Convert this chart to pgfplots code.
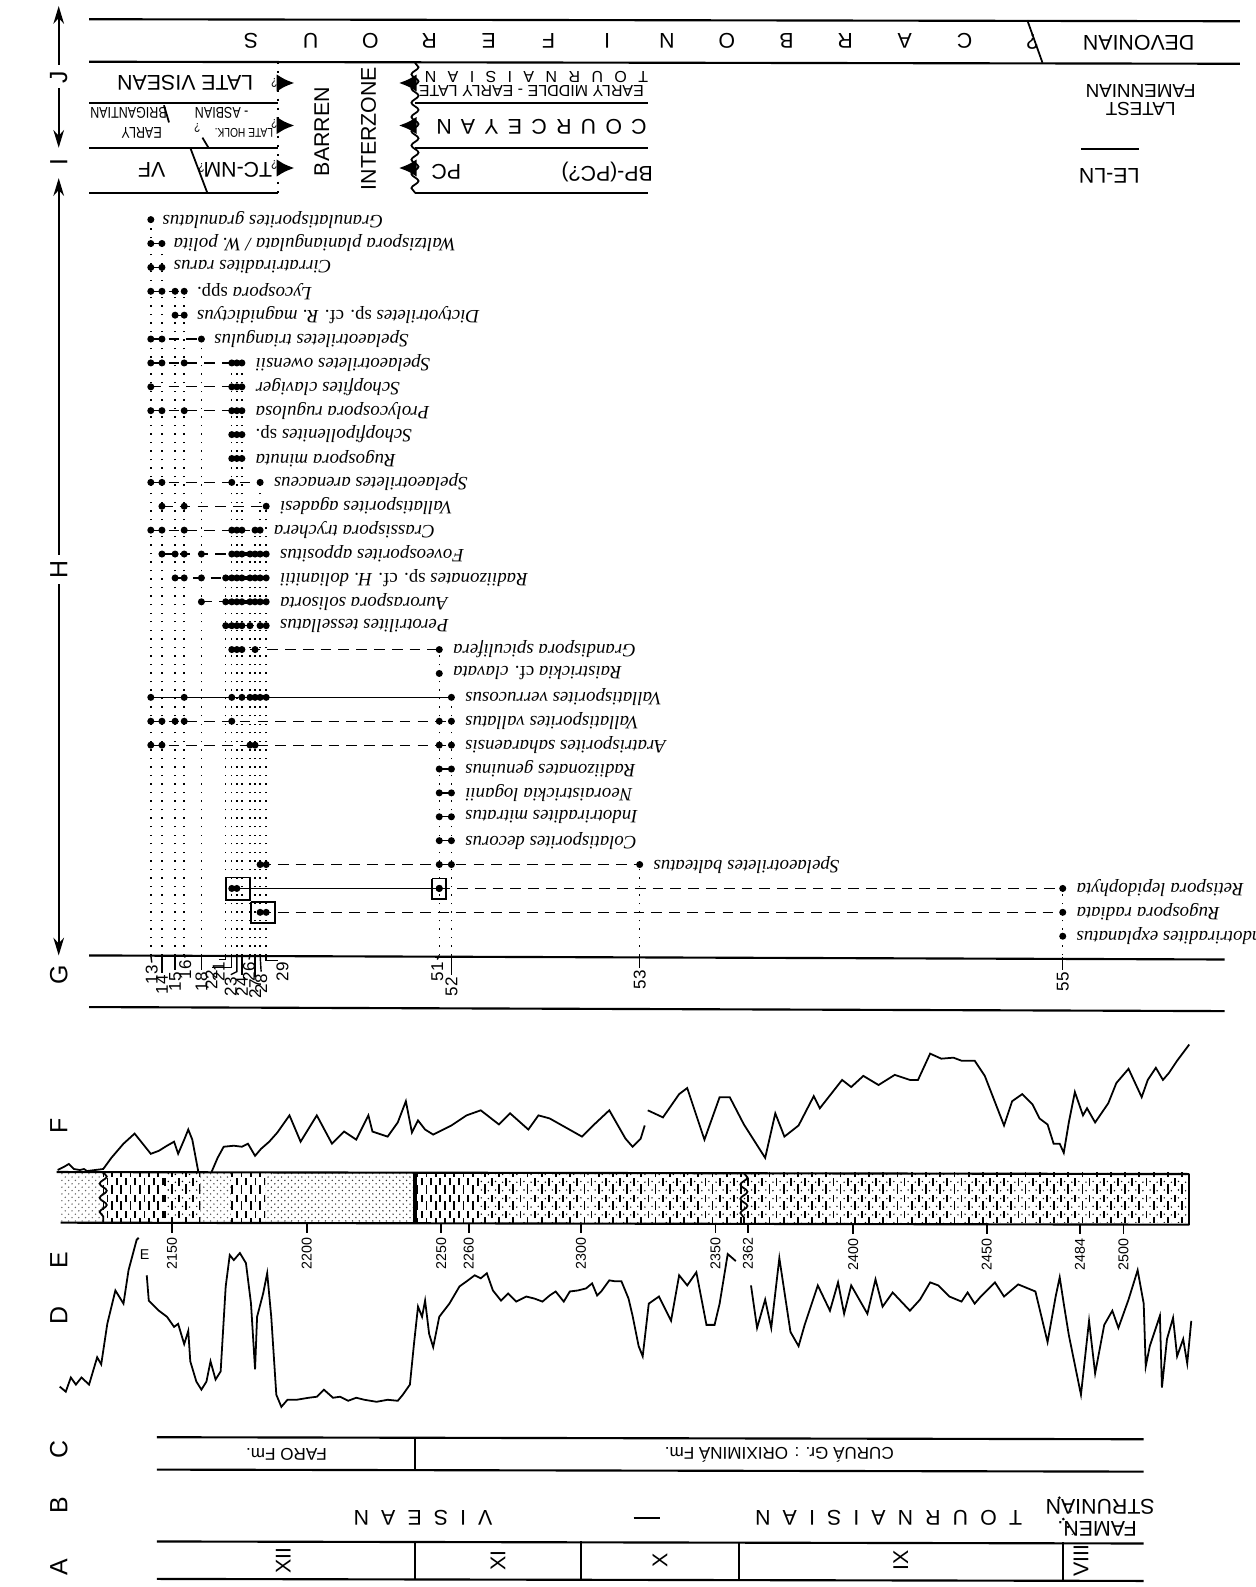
\documentclass[border=0pt]{standalone}
\usepackage{fontspec}
\setmainfont{Liberation Serif}
\newfontfamily\sans{Liberation Sans}
\newfontfamily\sansn[FakeStretch=0.8]{Liberation Sans}
\usepackage{pgfplots}
\pgfplotsset{compat=1.18}
\usetikzlibrary{arrows.meta,decorations.pathmorphing,patterns}

\pgfdeclarepatternformonly{sanddots}{\pgfqpoint{-0.3pt}{-0.3pt}}{\pgfqpoint{2.2pt}{2.2pt}}{\pgfqpoint{1.9pt}{1.9pt}}{%
  \pgfpathcircle{\pgfqpoint{0.3pt}{0.3pt}}{0.22pt}%
  \pgfpathcircle{\pgfqpoint{1.25pt}{1.25pt}}{0.22pt}%
  \pgfusepath{fill}}
\pgfdeclarepatternformonly{shale}{\pgfqpoint{-0.5pt}{-0.5pt}}{\pgfqpoint{3pt}{5pt}}{\pgfqpoint{2.6pt}{4.6pt}}{%
  \pgfsetlinewidth{0.5pt}%
  \pgfpathmoveto{\pgfqpoint{0.3pt}{0.2pt}}\pgfpathlineto{\pgfqpoint{0.3pt}{2.6pt}}%
  \pgfpathmoveto{\pgfqpoint{1.6pt}{2.5pt}}\pgfpathlineto{\pgfqpoint{1.6pt}{4.5pt}}%
  \pgfusepath{stroke}}
\pgfdeclarepatternformonly{mixed}{\pgfqpoint{-0.5pt}{-0.5pt}}{\pgfqpoint{4.5pt}{5pt}}{\pgfqpoint{4pt}{4.6pt}}{%
  \pgfsetlinewidth{0.5pt}%
  \pgfpathmoveto{\pgfqpoint{0.3pt}{0.2pt}}\pgfpathlineto{\pgfqpoint{0.3pt}{2.8pt}}%
  \pgfpathmoveto{\pgfqpoint{2.3pt}{2.4pt}}\pgfpathlineto{\pgfqpoint{2.3pt}{4.5pt}}%
  \pgfusepath{stroke}%
  \pgfpathcircle{\pgfqpoint{1.3pt}{1.0pt}}{0.22pt}%
  \pgfpathcircle{\pgfqpoint{1.3pt}{3.4pt}}{0.22pt}%
  \pgfpathcircle{\pgfqpoint{3.3pt}{1.2pt}}{0.22pt}%
  \pgfpathcircle{\pgfqpoint{3.3pt}{3.6pt}}{0.22pt}%
  \pgfusepath{fill}}

\newcommand\spf{\fontsize{5.3}{6}\selectfont\itshape}
\newcommand\lf{\sans\fontsize{6}{7}\selectfont}
\newcommand\ff{\sans\fontsize{5.3}{6}\selectfont}
\newcommand\mf{\sans\fontsize{4.5}{5}\selectfont}
\newcommand\nf{\sansn\fontsize{4.4}{5}\selectfont}
\newcommand\nsf{\sansn\fontsize{3.6}{4}\selectfont}
\newcommand\smf{\sans\fontsize{4.8}{5.5}\selectfont}
\newcommand\tnf{\sans\fontsize{4}{5}\selectfont}
\newcommand\bigf{\sans\fontsize{7}{8}\selectfont}
\newcommand\gap{\hspace{3.4pt}}
\newcommand\gapb{\hspace{3.2pt}}
\newcommand\gapc{\hspace{2.6pt}}

\tikzset{R/.style={rotate=180,inner sep=0pt},V/.style={rotate=90,inner sep=0pt}}
\pgfplotsset{rng/.style={black,densely dashed,line width=0.35pt,mark=*,mark size=0.8pt,mark options={solid}},
  rngs/.style={black,solid,line width=0.35pt,mark=*,mark size=0.8pt},
  thk/.style={black,solid,line width=1.1pt},
  vdot/.style={black,dotted,line width=0.4pt},
  curve/.style={black,line width=0.5pt}}

\begin{document}
\begin{tikzpicture}
\begin{axis}[width=12.4cm,height=15.68cm,scale only axis,xmin=0,xmax=1240,ymin=0,ymax=1568,
  y dir=reverse,hide axis,clip=false]

% ---------- left band letters and arrows ----------
\draw[{Stealth[length=5pt,width=3pt]}-{Stealth[length=5pt,width=3pt]},line width=0.5pt] (axis cs:58,6) -- (axis cs:58,146);
\node[V,fill=white,inner sep=1.5pt,font=\bigf] at (axis cs:58,76) {J};
\node[V,font=\bigf] at (axis cs:58,160) {I};
\draw[{Stealth[length=5pt,width=3pt]}-{Stealth[length=5pt,width=3pt]},line width=0.5pt] (axis cs:58,176) -- (axis cs:58,944);
\node[V,fill=white,inner sep=1.5pt,font=\bigf] at (axis cs:58,563) {H};
\node[V,font=\bigf] at (axis cs:58,963) {G};
\node[V,font=\bigf] at (axis cs:58,1112) {F};
\node[V,font=\bigf] at (axis cs:58,1245) {E};
\node[V,font=\bigf] at (axis cs:58,1300) {D};
\node[V,font=\bigf] at (axis cs:58,1432) {C};
\node[V,font=\bigf] at (axis cs:58,1487) {B};
\node[V,font=\bigf] at (axis cs:58,1548) {A};

% ---------- J band ----------
\draw[line width=0.6pt] (axis cs:88,19) -- (axis cs:1225,21);
\draw[line width=0.6pt] (axis cs:88,61) -- (axis cs:1225,63);
\draw[line width=0.5pt] (axis cs:1015,20) -- (axis cs:1030,62);
\node[R,font=\lf] at (axis cs:1020,41) {?};
\node[R,font=\lf] at (axis cs:1125,42) {DEVONIAN};
\node[R,font=\lf] at (axis cs:248,40) {S};
\node[R,font=\lf] at (axis cs:307,40) {U};
\node[R,font=\lf] at (axis cs:366,40) {O};
\node[R,font=\lf] at (axis cs:424,40) {R};
\node[R,font=\lf] at (axis cs:483,40) {E};
\node[R,font=\lf] at (axis cs:542,40) {F};
\node[R,font=\lf] at (axis cs:600,40) {I};
\node[R,font=\lf] at (axis cs:659,40) {N};
\node[R,font=\lf] at (axis cs:718,40) {O};
\node[R,font=\lf] at (axis cs:777,40) {B};
\node[R,font=\lf] at (axis cs:835,40) {R};
\node[R,font=\lf] at (axis cs:894,40) {A};
\node[R,font=\lf] at (axis cs:953,40) {C};

% ---------- I band ----------
\draw[line width=0.6pt] (axis cs:88,102) -- (axis cs:275,102);
\draw[line width=0.6pt] (axis cs:88,146) -- (axis cs:275,146);
\draw[line width=0.6pt] (axis cs:88,191) -- (axis cs:275,191);
\draw[line width=0.6pt] (axis cs:410,102) -- (axis cs:640,102);
\draw[line width=0.6pt] (axis cs:410,146) -- (axis cs:640,146);
\draw[line width=0.6pt] (axis cs:410,191) -- (axis cs:640,191);
\draw[dotted,line width=0.6pt] (axis cs:275,61) -- (axis cs:275,191);
\draw[line width=0.5pt,decorate,decoration={snake,amplitude=1pt,segment length=4pt}] (axis cs:410,62) -- (axis cs:410,191);
\node[R,font=\lf] at (axis cs:183,82) {LATE VISEAN};
\node[R,font=\nf] at (axis cs:127,112) {BRIGANTIAN};
\node[R,font=\nf] at (axis cs:219,112) {- ASBIAN};
\node[R,font=\nf] at (axis cs:140,131) {EARLY};
\node[R,font=\nsf] at (axis cs:241,131) {LATE HOLK.};
\draw[line width=0.5pt] (axis cs:162,104) -- (axis cs:167,121);
\draw[line width=0.5pt] (axis cs:200,136) -- (axis cs:206,146);
\draw[line width=0.5pt] (axis cs:188,146) -- (axis cs:205,191);
\node[R,font=\nsf] at (axis cs:195,126) {?};
\node[R,font=\lf] at (axis cs:150,168) {VF};
\node[R,font=\lf] at (axis cs:235,168) {TC-NM};
\node[R,font=\nsf] at (axis cs:199,166) {?};
\node[R,font=\nsf] at (axis cs:271,82) {?};
\node[R,font=\nsf] at (axis cs:271,122) {?};
\node[R,font=\nsf] at (axis cs:271,163) {?};
\draw[-{Latex[length=5pt,width=5pt]},line width=1.4pt] (axis cs:278,82) -- (axis cs:291,82);
\draw[-{Latex[length=5pt,width=5pt]},line width=1.4pt] (axis cs:278,124) -- (axis cs:291,124);
\draw[-{Latex[length=5pt,width=5pt]},line width=1.4pt] (axis cs:278,166) -- (axis cs:291,166);
\draw[-{Latex[length=5pt,width=5pt]},line width=1.4pt] (axis cs:407,82) -- (axis cs:394,82);
\draw[-{Latex[length=5pt,width=5pt]},line width=1.4pt] (axis cs:407,124) -- (axis cs:394,124);
\draw[-{Latex[length=5pt,width=5pt]},line width=1.4pt] (axis cs:407,166) -- (axis cs:394,166);
\node[V,font=\lf] at (axis cs:318,130) {BARREN};
\node[V,font=\lf] at (axis cs:364,127) {INTERZONE};
\node[R,font=\mf] at (axis cs:530,76) {T\gapb O\gapb U\gapb R\gapb N\gapb A\gapb I\gapb S\gapb I\gapb A\gapb N};
\node[R,font=\mf] at (axis cs:525,89.5) {EARLY MIDDLE - EARLY LATE};
\node[R,font=\lf] at (axis cs:535,125) {C\gapc O\gapc U\gapc R\gapc C\gapc E\gapc Y\gapc A\gapc N};
\node[R,font=\lf] at (axis cs:441,170) {PC};
\node[R,font=\lf] at (axis cs:600,170) {BP-(PC?)};
\node[R,font=\ff] at (axis cs:1127,90) {FAMENNIAN};
\node[R,font=\ff] at (axis cs:1127,108) {LATEST};
\draw[line width=0.6pt] (axis cs:1068,147) -- (axis cs:1125,147);
\node[R,font=\lf] at (axis cs:1096,174) {LE-LN};

% ---------- H band: range chart ----------
\addplot[vdot] coordinates {(149,944)(149,217)};
\addplot[vdot] coordinates {(160,944)(160,240.6)};
\addplot[vdot] coordinates {(173,944)(173,287.8)};
\addplot[vdot] coordinates {(182,944)(182,287.8)};
\addplot[vdot] coordinates {(199,944)(199,335)};
\addplot[vdot] coordinates {(223,944)(223,571)};
\addplot[vdot] coordinates {(229,944)(229,358.6)};
\addplot[vdot] coordinates {(234,944)(234,358.6)};
\addplot[vdot] coordinates {(239,944)(239,358.6)};
\addplot[vdot] coordinates {(247,944)(247,547.4)};
\addplot[vdot] coordinates {(252,944)(252,523.8)};
\addplot[vdot] coordinates {(257,944)(257,476.6)};
\addplot[vdot] coordinates {(263,944)(263,500.2)};
\addplot[vdot] coordinates {(434,944)(434,641.8)};
\addplot[vdot] coordinates {(446,944)(446,689)};
\addplot[vdot] coordinates {(632,944)(632,854.2)};
\addplot[vdot] coordinates {(1050,944)(1050,877.8)};

\addplot[rng] coordinates {(149,217)};
\addplot[rng] coordinates {(149,240.6)(160,240.6)};
\addplot[rng] coordinates {(149,264.2)(160,264.2)};
\addplot[rng] coordinates {(149,287.8)(160,287.8)(173,287.8)(182,287.8)};
\addplot[rng] coordinates {(173,311.4)(182,311.4)};
\addplot[rng] coordinates {(149,335)(160,335)(199,335)};
\addplot[rng] coordinates {(149,358.6)(160,358.6)(182,358.6)(229,358.6)(234,358.6)(239,358.6)};
\addplot[rng] coordinates {(149,382.2)(229,382.2)(234,382.2)(239,382.2)};
\addplot[rng] coordinates {(149,405.8)(160,405.8)(182,405.8)(229,405.8)(234,405.8)(239,405.8)};
\addplot[rng] coordinates {(229,429.4)(234,429.4)(239,429.4)};
\addplot[rng] coordinates {(229,453)(234,453)(239,453)};
\addplot[rng] coordinates {(149,476.6)(160,476.6)(229,476.6)(257,476.6)};
\addplot[rng] coordinates {(160,500.2)(182,500.2)(263,500.2)};
\addplot[rng] coordinates {(149,523.8)(160,523.8)(182,523.8)(229,523.8)(234,523.8)(239,523.8)(252,523.8)(257,523.8)};
\addplot[rng] coordinates {(160,547.4)(173,547.4)(182,547.4)(199,547.4)(229,547.4)(234,547.4)(239,547.4)(247,547.4)(252,547.4)(257,547.4)(263,547.4)};
\addplot[rng] coordinates {(173,571)(182,571)(199,571)(223,571)(229,571)(234,571)(239,571)(247,571)(252,571)(257,571)(263,571)};
\addplot[rng] coordinates {(199,594.6)(223,594.6)(229,594.6)(234,594.6)(239,594.6)(247,594.6)(252,594.6)(257,594.6)(263,594.6)};
\addplot[rng] coordinates {(223,618.2)(229,618.2)(234,618.2)(239,618.2)(247,618.2)(257,618.2)(263,618.2)};
\addplot[rng] coordinates {(229,641.8)(234,641.8)(239,641.8)(252,641.8)(434,641.8)};
\addplot[rng] coordinates {(434,665.4)};
\addplot[rngs] coordinates {(149,689)(182,689)(229,689)(239,689)(247,689)(252,689)(257,689)(263,689)(446,689)};
\addplot[rng] coordinates {(149,712.6)(160,712.6)(173,712.6)(182,712.6)(229,712.6)(434,712.6)(446,712.6)};
\addplot[rng] coordinates {(149,736.2)(160,736.2)(247,736.2)(252,736.2)(434,736.2)(446,736.2)};
\addplot[rng] coordinates {(434,759.8)(446,759.8)};
\addplot[rng] coordinates {(434,783.4)(446,783.4)};
\addplot[rng] coordinates {(434,807)(446,807)};
\addplot[rng] coordinates {(434,830.6)(446,830.6)};
\addplot[rng] coordinates {(257,854.2)(263,854.2)(434,854.2)(446,854.2)(632,854.2)};
\addplot[rngs] coordinates {(229,877.8)(234,877.8)(434,877.8)};
\addplot[rng] coordinates {(434,877.8)(1050,877.8)};
\addplot[rng] coordinates {(257,901.4)(263,901.4)(1050,901.4)};
\addplot[rng] coordinates {(1050,925)};
\addplot[thk] coordinates {(234,382.2)(239,382.2)};
\addplot[thk] coordinates {(229,429.4)(239,429.4)};
\addplot[thk] coordinates {(229,453)(239,453)};
\addplot[thk] coordinates {(252,523.8)(257,523.8)};
\addplot[thk] coordinates {(229,547.4)(263,547.4)};
\addplot[thk] coordinates {(223,571)(263,571)};
\addplot[thk] coordinates {(223,594.6)(263,594.6)};
\addplot[thk] coordinates {(223,618.2)(239,618.2)};
\addplot[thk] coordinates {(234,641.8)(239,641.8)};
\addplot[thk] coordinates {(247,689)(263,689)};
\addplot[black,line width=0.5pt] coordinates {(223,867)(247,867)(247,889)(223,889)(223,867)};
\addplot[black,line width=0.5pt] coordinates {(427,868)(441,868)(441,888)(427,888)(427,868)};
\addplot[black,line width=0.5pt] coordinates {(248,891)(272,891)(272,912)(248,912)(248,891)};

\node[R,anchor=east,font=\spf] at (axis cs:160,217) {Granulatisporites granulatus};
\node[R,anchor=east,font=\spf] at (axis cs:171,240.6) {Waltzispora planiangulata / W. polita};
\node[R,anchor=east,font=\spf] at (axis cs:171,264.2) {Cirratriradites rarus};
\node[R,anchor=east,font=\spf] at (axis cs:194,287.8) {Lycospora \textup{spp.}};
\node[R,anchor=east,font=\spf] at (axis cs:194,311.4) {Dictyotriletes \textup{sp. cf.} R. magnidictyus};
\node[R,anchor=east,font=\spf] at (axis cs:211,335) {Spelaeotriletes triangulus};
\node[R,anchor=east,font=\spf] at (axis cs:252,358.6) {Spelaeotriletes owensii};
\node[R,anchor=east,font=\spf] at (axis cs:252,382.2) {Schopfites claviger};
\node[R,anchor=east,font=\spf] at (axis cs:252,405.8) {Prolycospora rugulosa};
\node[R,anchor=east,font=\spf] at (axis cs:252,429.4) {Schopfipollenites \textup{sp.}};
\node[R,anchor=east,font=\spf] at (axis cs:252,453) {Rugospora minuta};
\node[R,anchor=east,font=\spf] at (axis cs:270,476.6) {Spelaeotriletes arenaceus};
\node[R,anchor=east,font=\spf] at (axis cs:276,500.2) {Vallatisporites agadesi};
\node[R,anchor=east,font=\spf] at (axis cs:270,523.8) {Crassispora trychera};
\node[R,anchor=east,font=\spf] at (axis cs:276,547.4) {Foveosporites appositus};
\node[R,anchor=east,font=\spf] at (axis cs:276,571) {Radiizonates \textup{sp. cf.} H. dolianitii};
\node[R,anchor=east,font=\spf] at (axis cs:276,594.6) {Auroraspora solisorta};
\node[R,anchor=east,font=\spf] at (axis cs:276,618.2) {Perotrilites tessellatus};
\node[R,anchor=east,font=\spf] at (axis cs:447,641.8) {Grandispora spiculifera};
\node[R,anchor=east,font=\spf] at (axis cs:447,665.4) {Raistrickia \textup{cf.} clavata};
\node[R,anchor=east,font=\spf] at (axis cs:459,689) {Vallatisporites verrucosus};
\node[R,anchor=east,font=\spf] at (axis cs:459,712.6) {Vallatisporites vallatus};
\node[R,anchor=east,font=\spf] at (axis cs:459,736.2) {Aratrisporites saharaensis};
\node[R,anchor=east,font=\spf] at (axis cs:459,759.8) {Radiizonates genuinus};
\node[R,anchor=east,font=\spf] at (axis cs:459,783.4) {Neoraistrickia loganii};
\node[R,anchor=east,font=\spf] at (axis cs:459,807) {Indotriradites mitratus};
\node[R,anchor=east,font=\spf] at (axis cs:459,830.6) {Colatisporites decorus};
\node[R,anchor=east,font=\spf] at (axis cs:645,854.2) {Spelaeotriletes balteatus};
\node[R,anchor=east,font=\spf] at (axis cs:1063,877.8) {Retispora lepidophyta};
\node[R,anchor=east,font=\spf] at (axis cs:1063,901.4) {Rugospora radiata};
\node[R,anchor=east,font=\spf] at (axis cs:1063,925) {Indotriradites explanatus};

% ---------- G band ----------
\draw[line width=0.6pt] (axis cs:88,944) -- (axis cs:1210,948);
\draw[line width=0.6pt] (axis cs:88,995) -- (axis cs:1210,999);
\draw[line width=0.4pt] (axis cs:149,944) -- (axis cs:150,951);
\node[V,anchor=east,font=\smf] at (axis cs:150,953) {13};
\draw[line width=0.4pt] (axis cs:160,944) -- (axis cs:160,961);
\node[V,anchor=east,font=\smf] at (axis cs:160,963) {14};
\draw[line width=0.4pt] (axis cs:173,944) -- (axis cs:173,958);
\node[V,anchor=east,font=\smf] at (axis cs:173,960) {15};
\draw[line width=0.4pt] (axis cs:182,944) -- (axis cs:183,946);
\node[V,anchor=east,font=\smf] at (axis cs:183,948) {16};
\draw[line width=0.4pt] (axis cs:199,944) -- (axis cs:199,958);
\node[V,anchor=east,font=\smf] at (axis cs:199,960) {18};
\draw[line width=0.4pt] (axis cs:223,944) -- (axis cs:223,948) -- (axis cs:216,948);
\node[V,anchor=east,font=\smf] at (axis cs:216,950) {21};
\draw[line width=0.4pt] (axis cs:229,944) -- (axis cs:229,956) -- (axis cs:209,956);
\node[V,anchor=east,font=\smf] at (axis cs:209,958) {22};
\draw[line width=0.4pt] (axis cs:234,944) -- (axis cs:234,960) -- (axis cs:228,963);
\node[V,anchor=east,font=\smf] at (axis cs:228,965) {23};
\draw[line width=0.4pt] (axis cs:239,944) -- (axis cs:239,963);
\node[V,anchor=east,font=\smf] at (axis cs:239,965) {24};
\draw[line width=0.4pt] (axis cs:247,944) -- (axis cs:246,948);
\node[V,anchor=east,font=\smf] at (axis cs:246,950) {26};
\draw[line width=0.4pt] (axis cs:252,944) -- (axis cs:252,965);
\node[V,anchor=east,font=\smf] at (axis cs:252,967) {27};
\draw[line width=0.4pt] (axis cs:257,944) -- (axis cs:258,960);
\node[V,anchor=east,font=\smf] at (axis cs:258,962) {28};
\draw[line width=0.4pt] (axis cs:263,944) -- (axis cs:263,949) -- (axis cs:275,949);
\node[V,anchor=east,font=\smf] at (axis cs:279,950) {29};
\draw[line width=0.4pt] (axis cs:434,944) -- (axis cs:432,948);
\node[V,anchor=east,font=\smf] at (axis cs:432,950) {51};
\draw[line width=0.4pt] (axis cs:446,944) -- (axis cs:446,963);
\node[V,anchor=east,font=\smf] at (axis cs:446,965) {52};
\draw[line width=0.4pt] (axis cs:632,944) -- (axis cs:632,956);
\node[V,anchor=east,font=\smf] at (axis cs:632,958) {53};
\draw[line width=0.4pt] (axis cs:1050,946) -- (axis cs:1050,958);
\node[V,anchor=east,font=\smf] at (axis cs:1050,960) {55};

% ---------- F curve ----------
\addplot[curve] coordinates {(57,1156)(63,1153)(68,1150)(73,1155)(79,1156)(83,1155)(86,1157)(94,1156)(102,1155)(110,1144)(122,1130)(133,1120)(141,1130)(149,1140)(157,1137)(165,1132)(172,1128)(176,1140)(182,1126)(186,1116)(190,1126)(196,1158)};
\addplot[curve] coordinates {(209,1158)(215,1144)(221,1133)(231,1132)(239,1133)(245,1130)(252,1142)(258,1135)(266,1128)(274,1119)(286,1102)(297,1128)(313,1102)(328,1130)(340,1118)(352,1126)(364,1102)(368,1118)(383,1123)(393,1109)(401,1088)(407,1119)(413,1107)(420,1116)(428,1121)(446,1112)(461,1102)(475,1097)(493,1111)(504,1100)(522,1116)(532,1102)(543,1105)(559,1114)(575,1123)(586,1112)(602,1097)(618,1125)(625,1133)(633,1125)(637,1112)};
\addplot[curve] coordinates {(640,1097)(655,1104)(671,1081)(679,1075)(696,1126)(711,1084)(721,1084)(735,1111)(756,1144)(766,1100)(775,1123)(789,1112)(804,1083)(810,1095)(832,1067)(841,1074)(853,1063)(868,1072)(884,1062)(899,1067)(907,1067)(919,1041)(930,1046)(942,1045)(950,1048)(963,1048)(973,1063)(992,1112)(1000,1088)(1010,1081)(1020,1091)(1027,1105)(1035,1111)(1041,1130)(1047,1130)(1051,1139)(1056,1109)(1062,1079)(1070,1102)(1074,1095)(1082,1109)(1095,1090)(1103,1070)(1115,1056)(1128,1084)(1134,1067)(1142,1055)(1149,1067)(1155,1060)(1163,1048)(1175,1032)};

% ---------- E: lithology column ----------
\addplot[draw=none,pattern=sanddots,pattern color=black!60] coordinates {(60,1158)(102,1158)(102,1208)(60,1208)} --cycle;
\addplot[draw=none,pattern=shale] coordinates {(102,1158)(162,1158)(162,1208)(102,1208)} --cycle;
\addplot[draw=none,pattern=mixed] coordinates {(162,1158)(198,1158)(198,1208)(162,1208)} --cycle;
\addplot[draw=none,pattern=sanddots,pattern color=black!70] coordinates {(198,1158)(228,1158)(228,1208)(198,1208)} --cycle;
\addplot[draw=none,pattern=shale] coordinates {(228,1158)(262,1158)(262,1208)(228,1208)} --cycle;
\addplot[draw=none,pattern=sanddots,pattern color=black!80] coordinates {(262,1158)(410,1158)(410,1208)(262,1208)} --cycle;
\addplot[draw=none,pattern=shale] coordinates {(410,1158)(470,1158)(470,1208)(410,1208)} --cycle;
\addplot[draw=none,pattern=mixed] coordinates {(470,1158)(1175,1158)(1175,1208)(470,1208)} --cycle;
\draw[line width=0.6pt] (axis cs:56,1158) -- (axis cs:1175,1160);
\draw[line width=0.6pt] (axis cs:60,1208) -- (axis cs:1175,1210);
\draw[line width=0.5pt,decorate,decoration={snake,amplitude=1pt,segment length=4pt}] (axis cs:102,1158) -- (axis cs:102,1208);
\draw[line width=1pt] (axis cs:410,1158) -- (axis cs:410,1208);
\draw[line width=0.5pt,decorate,decoration={snake,amplitude=1pt,segment length=4pt}] (axis cs:735,1159) -- (axis cs:735,1209);
\draw[line width=0.5pt] (axis cs:1175,1160) -- (axis cs:1175,1210);
\draw[line width=0.5pt] (axis cs:170,1208) -- (axis cs:170,1218);
\node[V,anchor=east,font=\tnf] at (axis cs:170,1222) {2150};
\draw[line width=0.5pt] (axis cs:303,1208) -- (axis cs:303,1218);
\node[V,anchor=east,font=\tnf] at (axis cs:303,1222) {2200};
\draw[line width=0.5pt] (axis cs:436,1208) -- (axis cs:436,1218);
\node[V,anchor=east,font=\tnf] at (axis cs:436,1222) {2250};
\draw[line width=0.5pt] (axis cs:463,1208) -- (axis cs:463,1218);
\node[V,anchor=east,font=\tnf] at (axis cs:463,1222) {2260};
\draw[line width=0.5pt] (axis cs:574,1208) -- (axis cs:574,1218);
\node[V,anchor=east,font=\tnf] at (axis cs:574,1222) {2300};
\draw[line width=0.5pt] (axis cs:707,1208) -- (axis cs:707,1218);
\node[V,anchor=east,font=\tnf] at (axis cs:707,1222) {2350};
\draw[line width=0.5pt] (axis cs:739,1208) -- (axis cs:739,1218);
\node[V,anchor=east,font=\tnf] at (axis cs:739,1222) {2362};
\draw[line width=0.5pt] (axis cs:843,1209) -- (axis cs:843,1219);
\node[V,anchor=east,font=\tnf] at (axis cs:843,1223) {2400};
\draw[line width=0.5pt] (axis cs:975,1209) -- (axis cs:975,1219);
\node[V,anchor=east,font=\tnf] at (axis cs:975,1223) {2450};
\draw[line width=0.5pt] (axis cs:1067,1209) -- (axis cs:1067,1219);
\node[V,anchor=east,font=\tnf] at (axis cs:1067,1223) {2484};
\draw[line width=0.5pt] (axis cs:1110,1209) -- (axis cs:1110,1219);
\node[V,anchor=east,font=\tnf] at (axis cs:1110,1223) {2500};
\node[font=\tnf] at (axis cs:143,1240) {E};

% ---------- D curve ----------
\addplot[curve] coordinates {(59,1370)(65,1375)(70,1361)(75,1368)(80.5,1361)(88,1368)(96,1341)(100,1348)(106,1308)(114,1275)(122,1288)(127,1255)(135,1225)(137,1223)};
\addplot[curve] coordinates {(145,1260)(147,1285)(157,1295)(165,1301)(172,1311)(176,1308)(182,1328)(186,1315)(188,1345)(194,1365)(199,1373)(204,1365)(208,1345)(213,1363)(218,1355)(223,1271)(227,1240)(231,1245)(237,1238)(243,1248)(248,1288)(252,1353)(254,1301)(260,1278)(264,1258)(268,1301)(273,1378)(278,1390)(284,1383)(293,1383)(305,1381)(313,1380)(320,1373)(329,1381)(336,1380)(344,1384)(352,1381)(360,1383)(372,1385)(383,1383)(393,1384)(398,1378)(405,1368)(409,1328)(413,1291)(417,1301)(420,1285)(424,1318)(428,1331)(434,1301)(444,1288)(454,1271)(461,1266)(469,1260)(475,1263)(481,1258)(487,1275)(495,1285)(502,1278)(510,1286)(520,1281)(528,1283)(536,1286)(543,1280)(549,1276)(557,1286)(563,1276)(571,1275)(579,1273)(585,1268)(590,1280)(594,1276)(602,1265)(608,1266)(614,1266)(621,1283)(625,1300)(631,1330)(635,1340)(641,1288)(651,1281)(663,1305)(671,1260)(679,1270)(688,1257)(698,1309)(706,1309)(711,1288)(719,1239)(727,1246)};
\addplot[curve] coordinates {(742,1270)(748,1312)(756,1284)(762,1312)(770,1243)(781,1316)(789,1330)(795,1309)(808,1270)(820,1295)(828,1267)(834,1298)(841,1270)(857,1298)(865,1264)(872,1291)(882,1277)(899,1295)(909,1284)(919,1267)(927,1270)(938,1281)(950,1286)(956,1277)(963,1288)(969,1281)(983,1267)(992,1281)(1006,1269)(1023,1276)(1035,1326)(1043,1281)(1047,1262)(1051,1288)(1056,1319)(1068,1378)(1076,1305)(1082,1357)(1091,1309)(1099,1295)(1105,1312)(1115,1284)(1124,1255)(1130,1288)(1132,1350)(1136,1330)(1146,1300)(1148,1371)(1153,1323)(1159,1302)(1163,1340)(1169,1323)(1173,1347)(1177,1305)};

% ---------- C band ----------
\draw[line width=0.6pt] (axis cs:155,1420) -- (axis cs:1130,1422);
\draw[line width=0.6pt] (axis cs:155,1452) -- (axis cs:1130,1454);
\draw[line width=0.5pt] (axis cs:410,1420) -- (axis cs:410,1452);
\node[R,font=\smf] at (axis cs:283,1437) {FARO Fm.};
\node[R,font=\smf] at (axis cs:770,1437) {CURUÁ Gr. : ORIXIMINÁ Fm.};

% ---------- B band ----------
\node[R,font=\lf] at (axis cs:418,1500) {V\gap I\gap S\gap E\gap A\gap N};
\draw[line width=0.6pt] (axis cs:626,1500) -- (axis cs:652,1500);
\node[R,font=\lf] at (axis cs:878,1500) {T\gap O\gap U\gap R\gap N\gap A\gap I\gap S\gap I\gap A\gap N};
\node[R,font=\lf] at (axis cs:1087,1489) {STRUNIAN};
\node[R,font=\lf] at (axis cs:1084,1511) {FAMEN.};
\draw[dotted,line width=0.6pt] (axis cs:1046,1479) -- (axis cs:1058,1494);
\draw[dotted,line width=0.6pt] (axis cs:1050,1500) -- (axis cs:1060,1516);

% ---------- A band ----------
\draw[line width=0.6pt] (axis cs:155,1523) -- (axis cs:1130,1525);
\draw[line width=0.6pt] (axis cs:155,1560) -- (axis cs:1130,1562);
\draw[line width=0.5pt] (axis cs:410,1523) -- (axis cs:410,1561);
\draw[line width=0.5pt] (axis cs:574,1523) -- (axis cs:574,1561);
\draw[line width=0.5pt] (axis cs:730,1524) -- (axis cs:730,1561);
\draw[line width=0.5pt] (axis cs:1050,1524) -- (axis cs:1050,1562);
\node[V,font=\lf] at (axis cs:280,1542) {XII};
\node[V,font=\lf] at (axis cs:492,1542) {XI};
\node[V,font=\lf] at (axis cs:652,1542) {X};
\node[V,font=\lf] at (axis cs:890,1542) {IX};
\node[V,font=\lf] at (axis cs:1068,1542) {VIII};

\end{axis}
\pgfresetboundingbox
\path (current axis.south west) rectangle (current axis.north east);
\end{tikzpicture}
\end{document}
